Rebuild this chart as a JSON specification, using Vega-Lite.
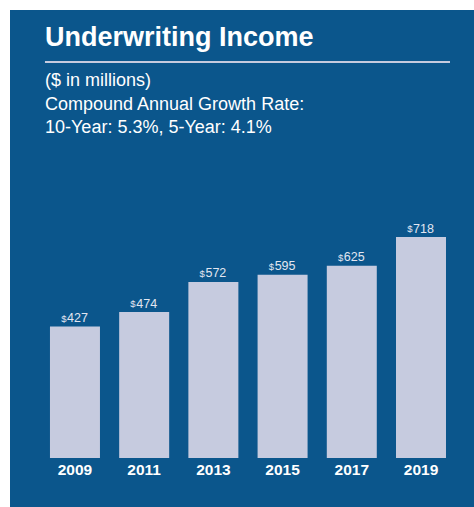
{
  "$schema": "https://vega.github.io/schema/vega-lite/v6.json",
  "width": 464,
  "height": 497,
  "autosize": {"type": "none"},
  "padding": {"left": 10, "top": 10, "right": 0, "bottom": 0},
  "background": "white",
  "config": {
    "view": {"fill": "#0b568c", "stroke": null},
    "font": "Liberation Sans"
  },
  "title": {
    "text": "Underwriting Income",
    "subtitle": ["($ in millions)", "Compound Annual Growth Rate:", "10-Year: 5.3%, 5-Year: 4.1%"],
    "anchor": "start",
    "frame": "group",
    "orient": "top",
    "dx": 35,
    "offset": -128,
    "font": "Liberation Sans",
    "fontSize": 27,
    "fontWeight": "bold",
    "color": "white",
    "subtitleFont": "Liberation Sans",
    "subtitleFontSize": 18,
    "subtitleColor": "white",
    "subtitleLineHeight": 23.3,
    "subtitlePadding": 20
  },
  "data": {
    "values": [
      {"year": "2009", "value": 427},
      {"year": "2011", "value": 474},
      {"year": "2013", "value": 572},
      {"year": "2015", "value": 595},
      {"year": "2017", "value": 625},
      {"year": "2019", "value": 718}
    ]
  },
  "layer": [
    {
      "mark": {"type": "bar", "color": "#c6cbdf"},
      "encoding": {
        "x": {
          "field": "year",
          "type": "ordinal",
          "scale": {"paddingInner": 0.2775, "paddingOuter": 0.491, "align": 0.588},
          "axis": {
            "orient": "bottom",
            "offset": -49,
            "domain": false,
            "ticks": false,
            "labelAngle": 0,
            "labelPadding": 4,
            "labelFont": "Liberation Sans",
            "labelFontSize": 15.5,
            "labelFontWeight": "bold",
            "labelColor": "white",
            "title": null
          }
        },
        "y": {
          "field": "value",
          "type": "quantitative",
          "scale": {"domain": [-159.2, 1455.5], "nice": false, "zero": false},
          "axis": null
        }
      }
    },
    {
      "mark": {"type": "text", "fontSize": 12.5, "color": "#e2e6f1", "baseline": "alphabetic", "align": "center", "dx": 2.5, "dy": -4.5},
      "encoding": {
        "x": {"field": "year", "type": "ordinal"},
        "y": {"field": "value", "type": "quantitative"},
        "text": {"field": "value", "type": "quantitative", "format": "d"}
      }
    },
    {
      "mark": {"type": "text", "text": "$", "fontSize": 9.5, "color": "#e2e6f1", "baseline": "alphabetic", "align": "right", "dx": -8.5, "dy": -5},
      "encoding": {
        "x": {"field": "year", "type": "ordinal"},
        "y": {"field": "value", "type": "quantitative"}
      }
    },
    {
      "data": {"values": [{}]},
      "mark": {"type": "rule", "color": "#c6cbdf", "strokeWidth": 2},
      "encoding": {
        "x": {"datum": "2009", "type": "ordinal", "bandPosition": -0.1},
        "x2": {"datum": "2019", "bandPosition": 1.08},
        "y": {"datum": 1286.6, "type": "quantitative"}
      }
    }
  ]
}
